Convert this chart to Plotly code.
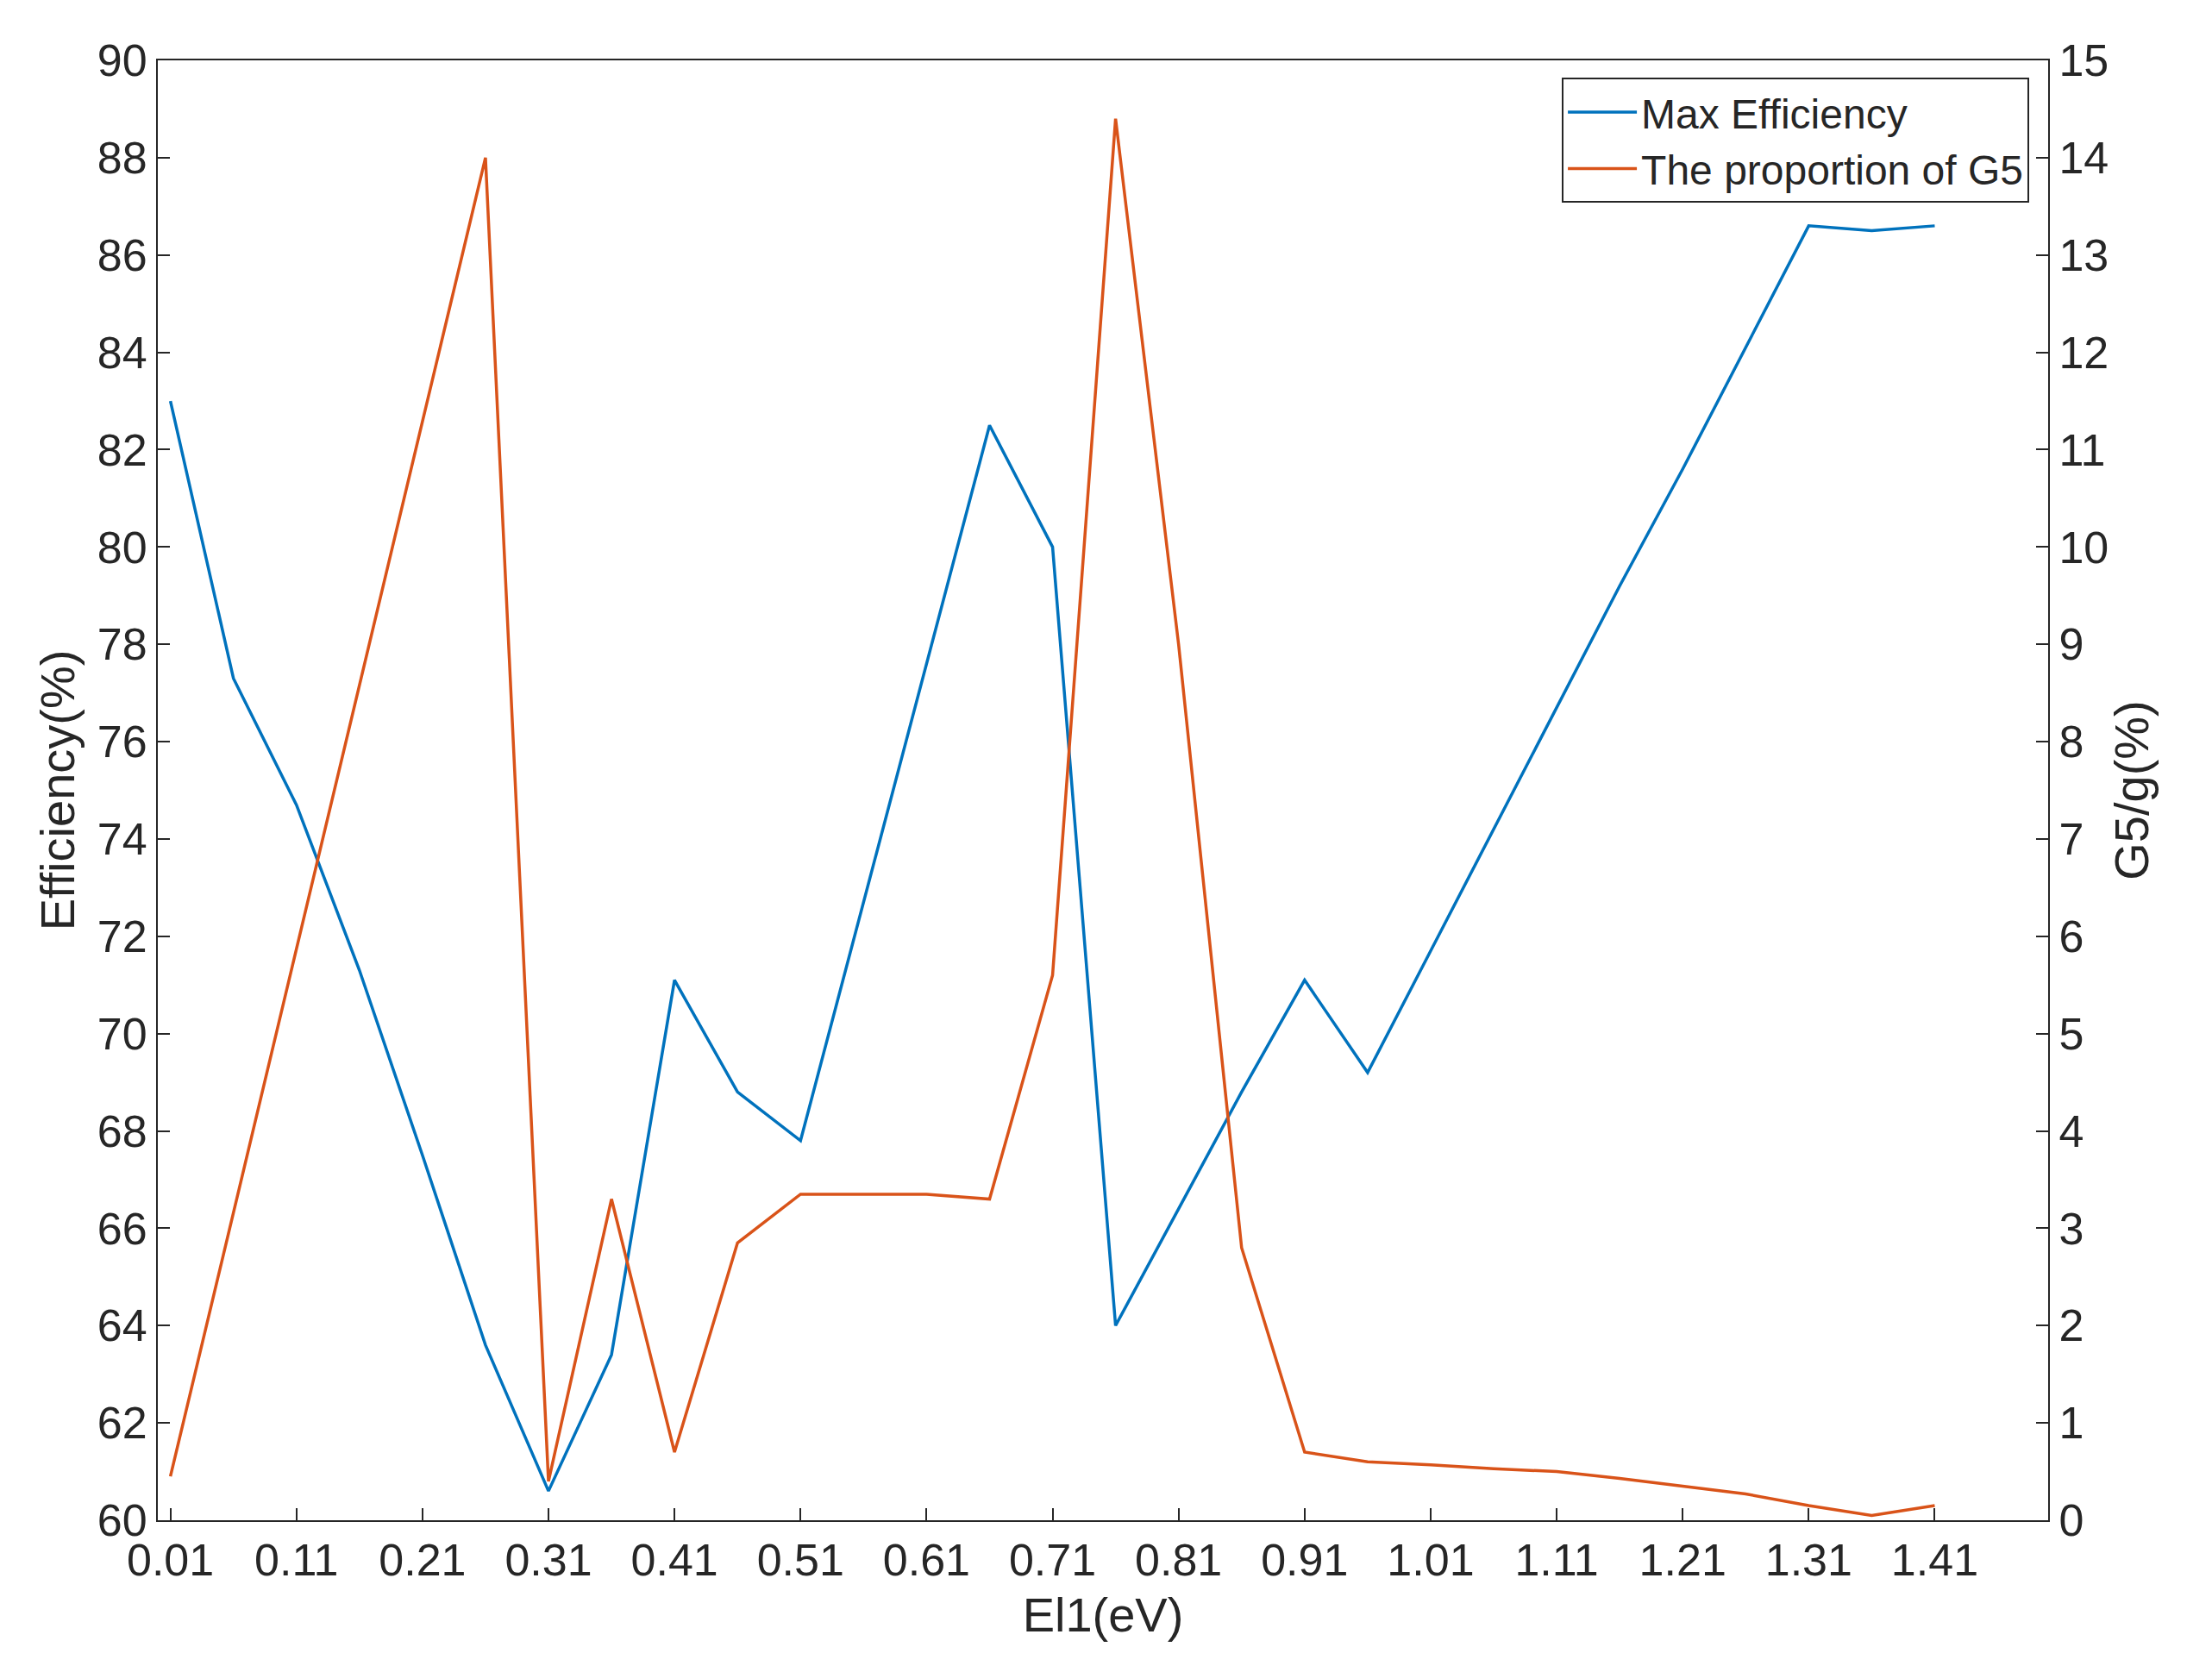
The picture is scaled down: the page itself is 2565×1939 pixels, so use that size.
import plotly.graph_objects as go

x_vals = [round(0.01 + 0.05 * i, 2) for i in range(29)]
efficiency = [83.0, 77.3, 74.7, 71.3, 67.5, 63.6, 60.6, 63.4, 71.1, 68.8, 67.8, 72.7, 77.6, 82.5,
              80.0, 64.0, 66.4, 68.8, 71.1, 69.2, 71.7, 74.2, 76.7, 79.2, 81.6, 84.1, 86.6, 86.5, 86.6]
g5_prop = [0.45, 3.16, 5.87, 8.58, 11.29, 14.0, 0.4, 3.3, 0.7, 2.85, 3.35, 3.35, 3.35, 3.3,
           5.6, 14.4, 9.0, 2.8, 0.7, 0.6, 0.57, 0.53, 0.5, 0.43, 0.35, 0.27, 0.15, 0.05, 0.15]
x_ticks = [round(0.01 + 0.1 * i, 2) for i in range(15)]

fig = go.Figure()
fig.add_trace(go.Scatter(x=x_vals, y=efficiency, mode="lines", name="Max Efficiency",
                         line=dict(color="#0072BD", width=3.5)))
fig.add_trace(go.Scatter(x=x_vals, y=g5_prop, mode="lines", name="The proportion of G5",
                         line=dict(color="#D95319", width=3.5), yaxis="y2"))

font = dict(family="Liberation Sans, Arial, sans-serif", size=52, color="#262626")
tfont = dict(family="Liberation Sans, Arial, sans-serif", size=56, color="#262626")
ax = dict(showgrid=False, zeroline=False, ticks="inside", ticklen=14, tickwidth=2,
          linecolor="#262626", linewidth=2, tickcolor="#262626", tickfont=font)
fig.update_layout(
    width=2565, height=1939, paper_bgcolor="white", plot_bgcolor="white",
    margin=dict(l=175, r=198, t=62, b=184),
    font=font,
    xaxis=dict(range=[0, 1.5], tickvals=x_ticks, ticktext=[f"{v:.2f}" for v in x_ticks],
               title=dict(text="El1(eV)", font=tfont, standoff=15), mirror=True, **ax),
    yaxis=dict(range=[60, 90], dtick=2, title=dict(text="Efficiency(%)", font=tfont, standoff=8), **ax),
    yaxis2=dict(range=[0, 15], dtick=1, overlaying="y", side="right",
                title=dict(text="G5/g(%)", font=tfont, standoff=8), **ax),
    legend=dict(x=0.99, y=0.988, xanchor="right", yanchor="top", bgcolor="white",
                bordercolor="#262626", borderwidth=2, itemwidth=80,
                font=dict(family=font["family"], size=48, color="#262626")),
)
fig.write_html("out.html")
